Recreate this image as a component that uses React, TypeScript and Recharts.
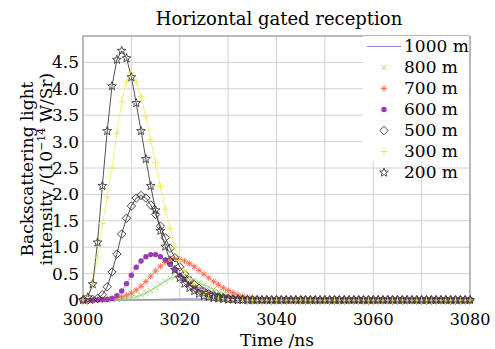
import React from 'react';
import { LineChart, Line, XAxis, YAxis, CartesianGrid, ReferenceArea } from 'recharts';

const times = [
  3000, 3001, 3002, 3003, 3004, 3005, 3006, 3007, 3008, 3009,
  3010, 3011, 3012, 3013, 3014, 3015, 3016, 3017, 3018, 3019,
  3020, 3021, 3022, 3023, 3024, 3025, 3026, 3027, 3028, 3029,
  3030, 3031, 3032, 3033, 3034, 3035, 3036, 3037, 3038, 3039,
  3040, 3041, 3042, 3043, 3044, 3045, 3046, 3047, 3048, 3049,
  3050, 3051, 3052, 3053, 3054, 3055, 3056, 3057, 3058, 3059,
  3060, 3061, 3062, 3063, 3064, 3065, 3066, 3067, 3068, 3069,
  3070, 3071, 3072, 3073, 3074, 3075, 3076, 3077, 3078, 3079,
  3080,
];

const v1000 = [
  0, 0, 0, 0, 0, 0, 0, 0, 0, 0.001,
  0.002, 0.003, 0.005, 0.007, 0.009, 0.011, 0.013, 0.015, 0.017, 0.019,
  0.02, 0.021, 0.022, 0.022, 0.022, 0.021, 0.02, 0.018, 0.016, 0.014,
  0.012, 0.01, 0.008, 0.006, 0.005, 0.004, 0.003, 0.002, 0.001, 0,
  0, 0, 0, 0, 0, 0, 0, 0, 0, 0,
  0, 0, 0, 0, 0, 0, 0, 0, 0, 0,
  0, 0, 0, 0, 0, 0, 0, 0, 0, 0,
  0, 0, 0, 0, 0, 0, 0, 0, 0, 0,
  0,
];

const v800 = [
  0, 0, 0, 0, 0, 0, 0.005, 0.01, 0.015, 0.025,
  0.04, 0.06, 0.09, 0.13, 0.18, 0.24, 0.3, 0.36, 0.41, 0.44,
  0.45, 0.44, 0.41, 0.37, 0.33, 0.28, 0.24, 0.2, 0.16, 0.12,
  0.09, 0.07, 0.05, 0.035, 0.025, 0.015, 0.01, 0.005, 0, 0,
  0, 0, 0, 0, 0, 0, 0, 0, 0, 0,
  0, 0, 0, 0, 0, 0, 0, 0, 0, 0,
  0, 0, 0, 0, 0, 0, 0, 0, 0, 0,
  0, 0, 0, 0, 0, 0, 0, 0, 0, 0,
  0,
];

const v700 = [
  0, 0, 0, 0.005, 0.01, 0.02, 0.03, 0.045, 0.06, 0.09,
  0.13, 0.19, 0.26, 0.35, 0.45, 0.55, 0.64, 0.71, 0.76, 0.78,
  0.77, 0.74, 0.69, 0.63, 0.56, 0.49, 0.42, 0.35, 0.29, 0.23,
  0.18, 0.14, 0.1, 0.07, 0.05, 0.035, 0.025, 0.015, 0.01, 0.005,
  0, 0, 0, 0, 0, 0, 0, 0, 0, 0,
  0, 0, 0, 0, 0, 0, 0, 0, 0, 0,
  0, 0, 0, 0, 0, 0, 0, 0, 0, 0,
  0, 0, 0, 0, 0, 0, 0, 0, 0, 0,
  0,
];

const v600 = [
  0, 0, 0, 0, 0.005, 0.01, 0.03, 0.08, 0.17, 0.31,
  0.47, 0.62, 0.74, 0.82, 0.86, 0.86, 0.82, 0.76, 0.67, 0.57,
  0.47, 0.39, 0.31, 0.25, 0.2, 0.16, 0.13, 0.1, 0.08, 0.06,
  0.045, 0.035, 0.025, 0.018, 0.012, 0.008, 0.005, 0, 0, 0,
  0, 0, 0, 0, 0, 0, 0, 0, 0, 0,
  0, 0, 0, 0, 0, 0, 0, 0, 0, 0,
  0, 0, 0, 0, 0, 0, 0, 0, 0, 0,
  0, 0, 0, 0, 0, 0, 0, 0, 0, 0,
  0,
];

const v500 = [
  0, 0, 0.01, 0.03, 0.1, 0.25, 0.53, 0.87, 1.25, 1.55,
  1.78, 1.93, 1.98, 1.93, 1.8, 1.62, 1.4, 1.18, 0.98, 0.8,
  0.63, 0.49, 0.38, 0.29, 0.22, 0.16, 0.12, 0.09, 0.06, 0.045,
  0.03, 0.02, 0.015, 0.01, 0.005, 0, 0, 0, 0, 0,
  0, 0, 0, 0, 0, 0, 0, 0, 0, 0,
  0, 0, 0, 0, 0, 0, 0, 0, 0, 0,
  0, 0, 0, 0, 0, 0, 0, 0, 0, 0,
  0, 0, 0, 0, 0, 0, 0, 0, 0, 0,
  0,
];

const v300 = [
  0, 0.05, 0.3, 0.8, 1.45, 1.95, 2.5, 3.16, 3.75, 4.13,
  4.3, 4.13, 3.85, 3.47, 3.03, 2.6, 2.15, 1.72, 1.35, 1.0,
  0.75, 0.55, 0.4, 0.29, 0.2, 0.14, 0.1, 0.07, 0.05, 0.03,
  0.02, 0.01, 0.01, 0, 0, 0, 0, 0, 0, 0,
  0, 0, 0, 0, 0, 0, 0, 0, 0, 0,
  0, 0, 0, 0, 0, 0, 0, 0, 0, 0,
  0, 0, 0, 0, 0, 0, 0, 0, 0, 0,
  0, 0, 0, 0, 0, 0, 0, 0, 0, 0,
  0,
];

const v200 = [
  0, 0.05, 0.3, 1.09, 2.16, 3.2, 4.05, 4.55, 4.72, 4.58,
  4.22, 3.73, 3.2, 2.67, 2.16, 1.7, 1.31, 1.01, 0.75, 0.57,
  0.42, 0.31, 0.23, 0.17, 0.12, 0.08, 0.06, 0.04, 0.03, 0.02,
  0.01, 0.01, 0, 0, 0, 0, 0, 0, 0, 0,
  0, 0, 0, 0, 0, 0, 0, 0, 0, 0,
  0, 0, 0, 0, 0, 0, 0, 0, 0, 0,
  0, 0, 0, 0, 0, 0, 0, 0, 0, 0,
  0, 0, 0, 0, 0, 0, 0, 0, 0, 0,
  0,
];

const xTicks = [3000, 3010, 3020, 3030, 3040, 3050, 3060, 3070, 3080];
const xLabelTicks = [3000, 3020, 3040, 3060, 3080];
const yTicks = [0, 0.5, 1, 1.5, 2, 2.5, 3, 3.5, 4, 4.5];

const seriesNames = ['1000 m', '800 m', '700 m', '600 m', '500 m', '300 m', '200 m'];
const seriesKeys = ['s1000', 's800', 's700', 's600', 's500', 's300', 's200'];

const data = times.map((t, i) => ({
  t,
  s1000: v1000[i],
  s800: v800[i],
  s700: v700[i],
  s600: v600[i],
  s500: v500[i],
  s300: v300[i],
  s200: v200[i],
}));

const FONT = '"DejaVu Serif", serif';

type Kind = 'none' | 'x' | 'asterisk' | 'circle' | 'diamond' | 'plus' | 'star';

const styles: { kind: Kind; line: string; marker: string; width: number }[] = [
  { kind: 'none', line: '#8c8cdc', marker: '#8c8cdc', width: 1 },
  { kind: 'x', line: '#9ddc7c', marker: '#8ed46c', width: 0.8 },
  { kind: 'asterisk', line: '#ff8a6a', marker: '#ff6a48', width: 0.8 },
  { kind: 'circle', line: '#b070c8', marker: '#9a3cb4', width: 0.7 },
  { kind: 'diamond', line: '#404040', marker: '#303030', width: 0.9 },
  { kind: 'plus', line: '#f2ee70', marker: '#eee860', width: 0.9 },
  { kind: 'star', line: '#404040', marker: '#404040', width: 0.9 },
];

function starPath(cx: number, cy: number, r: number) {
  const pts: string[] = [];
  for (let k = 0; k < 10; k++) {
    const rad = k % 2 === 0 ? r : r * 0.42;
    const a = -Math.PI / 2 + (k * Math.PI) / 5;
    pts.push(`${(cx + rad * Math.cos(a)).toFixed(2)},${(cy + rad * Math.sin(a)).toFixed(2)}`);
  }
  return 'M' + pts.join('L') + 'Z';
}

function Marker({ kind, cx, cy, color }: { kind: Kind; cx: number; cy: number; color: string }) {
  switch (kind) {
    case 'x': {
      const s = 2.6;
      return (
        <g stroke={color} strokeWidth={0.9}>
          <line x1={cx - s} y1={cy - s} x2={cx + s} y2={cy + s} />
          <line x1={cx - s} y1={cy + s} x2={cx + s} y2={cy - s} />
        </g>
      );
    }
    case 'asterisk': {
      const s = 3.2;
      const d = s * 0.72;
      return (
        <g stroke={color} strokeWidth={0.9}>
          <line x1={cx - s} y1={cy} x2={cx + s} y2={cy} />
          <line x1={cx} y1={cy - s} x2={cx} y2={cy + s} />
          <line x1={cx - d} y1={cy - d} x2={cx + d} y2={cy + d} />
          <line x1={cx - d} y1={cy + d} x2={cx + d} y2={cy - d} />
        </g>
      );
    }
    case 'circle':
      return <circle cx={cx} cy={cy} r={2.7} fill={color} stroke="none" />;
    case 'diamond': {
      const s = 4.2;
      return (
        <path
          d={`M${cx},${cy - s}L${cx + s},${cy}L${cx},${cy + s}L${cx - s},${cy}Z`}
          fill="none"
          stroke={color}
          strokeWidth={0.9}
        />
      );
    }
    case 'plus': {
      const s = 3.6;
      return (
        <g stroke={color} strokeWidth={1}>
          <line x1={cx - s} y1={cy} x2={cx + s} y2={cy} />
          <line x1={cx} y1={cy - s} x2={cx} y2={cy + s} />
        </g>
      );
    }
    case 'star':
      return <path d={starPath(cx, cy, 4.6)} fill="none" stroke={color} strokeWidth={0.9} />;
    default:
      return null;
  }
}

const makeDot = (kind: Kind, color: string) => (props: any) => {
  const { cx, cy, index } = props;
  if (kind === 'none' || cx == null || cy == null) return <g key={`d${index}`} />;
  return (
    <g key={`d${index}`}>
      <Marker kind={kind} cx={cx} cy={cy} color={color} />
    </g>
  );
};

const LegendBox = () => (
  <div
    style={{
      position: 'absolute',
      left: 363,
      top: 36,
      width: 106,
      height: 126,
      background: '#fff',
      fontFamily: FONT,
      fontSize: 17,
      color: '#000',
      overflow: 'visible',
    }}
  >
    {seriesNames.map((name, i) => (
      <div key={name} style={{ position: 'absolute', left: 0, top: i * 21, height: 21, width: 120 }}>
        <svg width={40} height={21} style={{ position: 'absolute', left: 0, top: 0 }}>
          {styles[i].kind === 'none' ? (
            <line x1={4} y1={10.5} x2={38} y2={10.5} stroke={styles[i].line} strokeWidth={1} />
          ) : (
            <Marker kind={styles[i].kind} cx={21} cy={10.5} color={styles[i].marker} />
          )}
        </svg>
        <span style={{ position: 'absolute', left: 41, top: 0, lineHeight: '21px', whiteSpace: 'nowrap' }}>
          {name}
        </span>
      </div>
    ))}
  </div>
);

export default function App() {
  return (
    <div style={{ position: 'absolute', left: 0, top: 0, width: 495, height: 349, background: '#fff' }}>
      <LineChart
        width={495}
        height={349}
        data={data}
        margin={{ top: 36, right: 25, bottom: 0, left: 0 }}
      >
        <CartesianGrid stroke="#d2d2d2" strokeWidth={1} vertical horizontal />
        <XAxis
          dataKey="t"
          type="number"
          domain={[3000, 3080]}
          ticks={xTicks}
          interval={0}
          height={49}
          axisLine={false}
          tickLine={false}
          tickSize={6}
          tickMargin={8}
          tick={{ fontFamily: FONT, fontSize: 16, fill: '#000' }}
          tickFormatter={(v: number) => (xLabelTicks.includes(v) ? String(v) : '')}
        />
        <YAxis
          type="number"
          domain={[0, 5]}
          ticks={yTicks}
          interval={0}
          width={83}
          axisLine={false}
          tickLine={false}
          tickSize={3}
          tickMargin={1}
          tick={{ fontFamily: FONT, fontSize: 17, fill: '#000' }}
          tickFormatter={(v: number) => (v === 0 ? '0' : v.toFixed(1))}
        />
        <ReferenceArea
          x1={3000}
          x2={3080}
          y1={0}
          y2={5}
          fill="none"
          fillOpacity={0}
          stroke="#8a8a8a"
          strokeWidth={1}
          ifOverflow="visible"
        />
        {seriesKeys.map((k, i) => (
          <Line
            key={k}
            dataKey={k}
            name={seriesNames[i]}
            type="linear"
            stroke={styles[i].line}
            strokeWidth={styles[i].width}
            dot={makeDot(styles[i].kind, styles[i].marker)}
            activeDot={false}
            isAnimationActive={false}
          />
        ))}
        <text x={279} y={25} textAnchor="middle" fontFamily={FONT} fontSize={18} fill="#000">
          Horizontal gated reception
        </text>
        <text x={277} y={346} textAnchor="middle" fontFamily={FONT} fontSize={17} fill="#000">
          Time /ns
        </text>
        <text
          transform="translate(33,169) rotate(-90)"
          textAnchor="middle"
          fontFamily={FONT}
          fontSize={17}
          fill="#000"
        >
          Backscattering light
        </text>
        <text
          transform="translate(52,169) rotate(-90)"
          textAnchor="middle"
          fontFamily={FONT}
          fontSize={17}
          fill="#000"
        >
          intensity /(10
          <tspan fontSize={11} dy={-7}>
            −14
          </tspan>
          <tspan dy={7}> W/Sr)</tspan>
        </text>
      </LineChart>
      <LegendBox />
    </div>
  );
}
